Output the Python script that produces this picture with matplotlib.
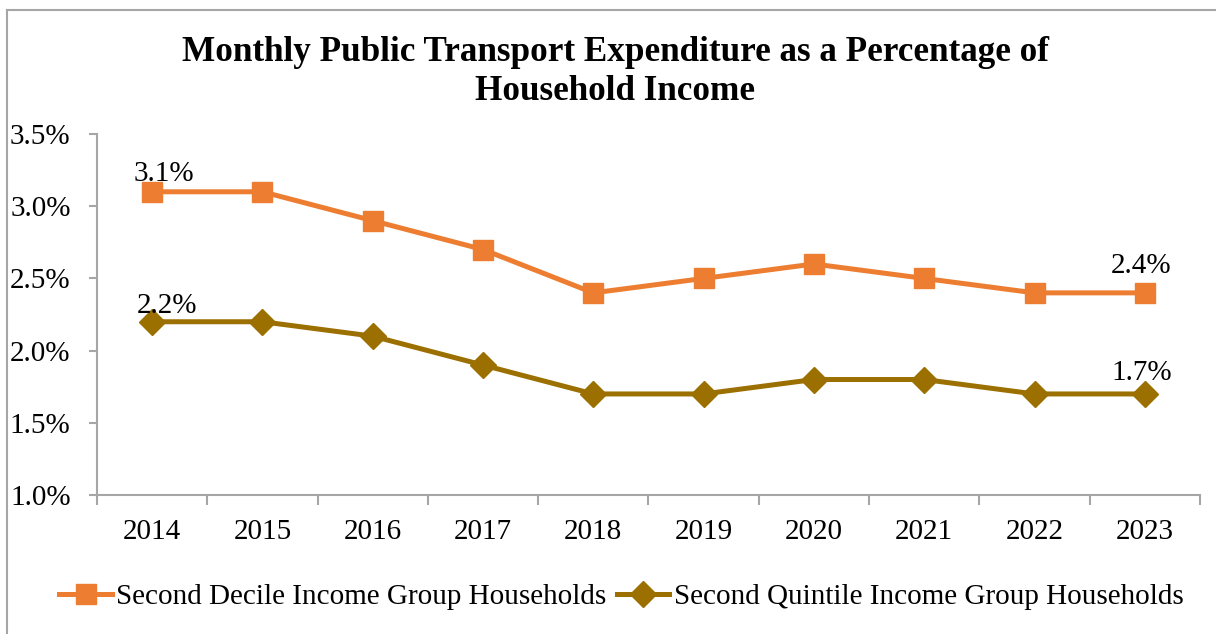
import matplotlib.pyplot as plt
from matplotlib.ticker import FuncFormatter, FixedLocator
from matplotlib.lines import Line2D

years = ['2014', '2015', '2016', '2017', '2018', '2019', '2020', '2021', '2022', '2023']
decile = [3.1, 3.1, 2.9, 2.7, 2.4, 2.5, 2.6, 2.5, 2.4, 2.4]
quintile = [2.2, 2.2, 2.1, 1.9, 1.7, 1.7, 1.8, 1.8, 1.7, 1.7]
series_names = ['Second Decile Income Group Households',
                'Second Quintile Income Group Households']

plt.rcParams['font.family'] = ['Liberation Serif', 'DejaVu Serif']

fig = plt.figure(figsize=(12.16, 6.34), dpi=100)
ax = fig.add_axes([0.0798, 0.2192, 0.9070, 0.5694])

# chart border (only left and top visible)
fig.add_artist(Line2D([7 / 1216, 7 / 1216], [0, 1 - 10 / 634], color='#a6a6a6', lw=1.5))
fig.add_artist(Line2D([7 / 1216, 1], [1 - 10 / 634, 1 - 10 / 634], color='#a6a6a6', lw=1.5))

x = range(len(years))
orange = '#ED7D31'
olive = '#9C7000'
ax.plot(x, decile, color=orange, lw=3.6, marker='s', ms=14.5, label=series_names[0])
ax.plot(x, quintile, color=olive, lw=3.6, marker='D', ms=13.5, label=series_names[1])

# data labels on first and last points, offsets in pixels (dx, dy)
last = len(years) - 1
labels = [(0, decile[0], 12, 18), (0, quintile[0], 15, 16),
          (last, decile[last], -4, 27), (last, quintile[last], -3, 21)]
for i, v, dx, dy in labels:
    ax.annotate(f'{v:.1f}%', (i, v), xytext=(dx * 0.72, dy * 0.72), textcoords='offset points',
                ha='center', va='center', fontsize=21)

ax.set_xlim(-0.5, len(years) - 0.5)
ax.set_ylim(1.0, 3.5)
ax.set_yticks([1.0, 1.5, 2.0, 2.5, 3.0, 3.5])
ax.yaxis.set_major_formatter(FuncFormatter(lambda v, p: f'{v:.1f}%'))
ax.set_xticks(list(x))
ax.set_xticklabels(years)
ax.xaxis.set_minor_locator(FixedLocator([i - 0.5 for i in range(len(years) + 1)]))
ax.tick_params(axis='x', which='major', length=0, pad=17, labelsize=21)
ax.tick_params(axis='x', which='minor', length=7, color='#a6a6a6', width=1.5)
ax.tick_params(axis='y', length=6, color='#a6a6a6', width=1.5, labelsize=21, pad=13)

for s in ('top', 'right'):
    ax.spines[s].set_visible(False)
for s in ('left', 'bottom'):
    ax.spines[s].set_color('#a6a6a6')
    ax.spines[s].set_linewidth(1.5)

fig.text(0.506, 0.886, 'Monthly Public Transport Expenditure as a Percentage of\nHousehold Income',
         ha='center', va='center', fontsize=25.3, fontweight='bold', linespacing=1.25)

fig.legend(loc='center', bbox_to_anchor=(0.511, 0.058), ncol=2, frameon=False, fontsize=21,
           handlelength=1.8, handletextpad=0.15, columnspacing=0.35)

fig.savefig('out.png', dpi=100)
